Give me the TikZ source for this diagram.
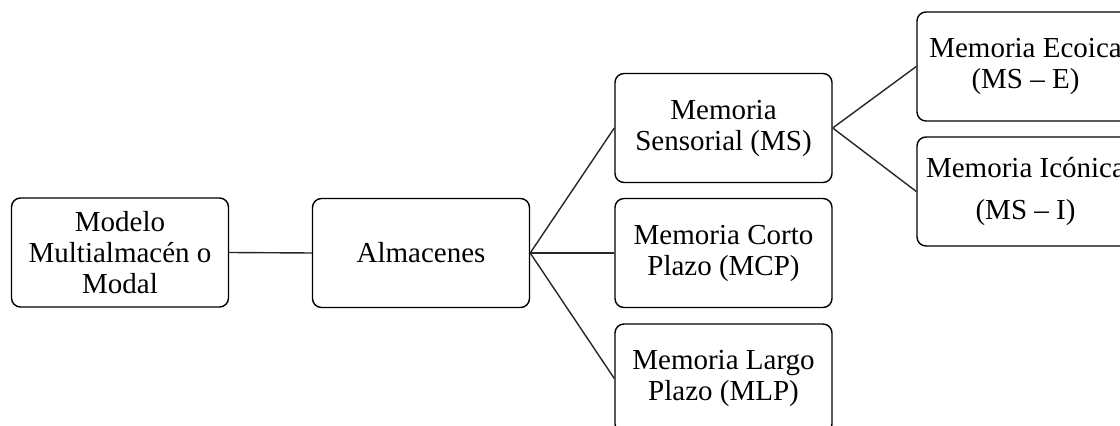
\documentclass[tikz,border=0pt]{standalone}
\usepackage{fontspec}
\setmainfont{Liberation Serif}
\begin{document}
\begin{tikzpicture}[x=0.5pt,y=-0.5pt,
  box/.style={draw=black, line width=0.7pt, rounded corners=4.5pt,
    minimum width=108.5pt, minimum height=54.5pt, inner sep=0pt,
    align=center, font=\fontsize{14.5pt}{15.5pt}\selectfont},
  link/.style={draw=black!85, line width=0.7pt}]
  \useasboundingbox (0,0) rectangle (1120,426);
  \clip (0,0) rectangle (1120,426);
  \node[box] (modelo)    at (120,252.5)  {Modelo\\Multialmacén o\\Modal};
  \node[box] (almacenes) at (421,253)    {Almacenes};
  \node[box] (ms)        at (723.5,128)  {Memoria\\Sensorial (MS)};
  \node[box] (mcp)       at (723.5,253)  {Memoria Corto\\Plazo (MCP)};
  \node[box] (mlp)       at (723.5,378.5){Memoria Largo\\Plazo (MLP)};
  \node[box] (mse)       at (1025.5,66.5){Memoria Ecoica\\(MS – E)};
  \node[box] (msi)       at (1025.5,191.5){Memoria Icónica\\[5.5pt](MS – I)};
  \draw[link] (modelo.east) -- (almacenes.west);
  \draw[link] (almacenes.east) -- (ms.west);
  \draw[link] (almacenes.east) -- (mcp.west);
  \draw[link] (almacenes.east) -- (mlp.west);
  \draw[link] (ms.east) -- (mse.west);
  \draw[link] (ms.east) -- (msi.west);
\end{tikzpicture}
\end{document}
